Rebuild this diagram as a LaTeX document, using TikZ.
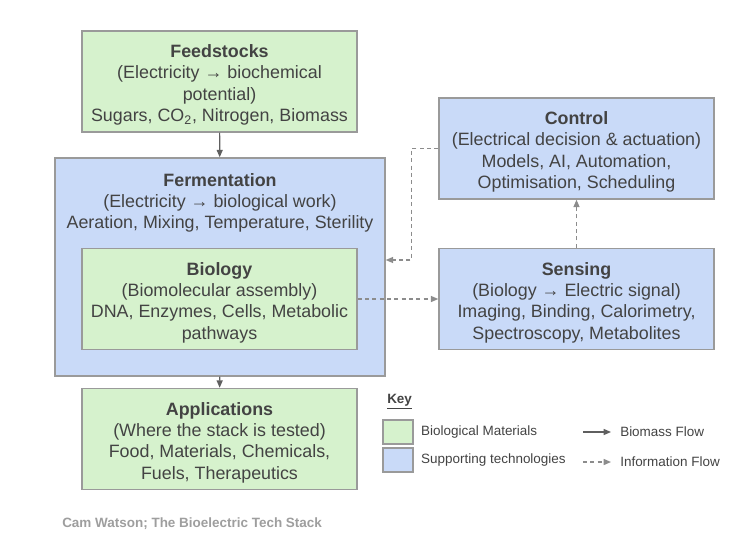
\documentclass[tikz,border=0pt]{standalone}
\usepackage{fontspec}
\setmainfont{Liberation Sans}
\usetikzlibrary{arrows.meta,calc,positioning}
\definecolor{biogreen}{HTML}{D6F2CD}
\definecolor{techblue}{HTML}{C9DAF8}
\definecolor{boxline}{HTML}{9A9A9A}
\definecolor{inktext}{HTML}{434343}
\definecolor{flowline}{HTML}{5F5F5F}
\definecolor{infoline}{HTML}{8C8C8C}
\definecolor{credit}{HTML}{9E9E9E}

\begin{document}
\begin{tikzpicture}[x=0.75pt,y=0.75pt,yscale=-1,xscale=1,
  stackbox/.style={draw=boxline, line width=1.1pt, inner sep=0pt,
    minimum width=206.25pt, minimum height=75.75pt},
  biobox/.style={stackbox, fill=biogreen},
  techbox/.style={stackbox, fill=techblue},
  boxtext/.style={align=center, text=inktext, inner sep=0pt, yshift=-2.7pt,
    font=\fontsize{13.4}{16.1}\selectfont},
  swatch/.style={draw=boxline, line width=0.9pt, minimum width=22.5pt, minimum height=18pt, inner sep=0pt},
  keytext/.style={anchor=west, inner sep=0pt, text=inktext, font=\fontsize{10.1}{12}\selectfont},
  biomass/.style={draw=flowline, line width=0.9pt, -{Triangle[length=5.5pt,width=4.5pt]}},
  info/.style={draw=infoline, line width=0.9pt, dash pattern=on 3pt off 2.5pt,
    -{Triangle[length=5.5pt,width=4.5pt]}},
]
  \useasboundingbox (0,0) rectangle (752,558);

  \node[biobox, label={[boxtext]center:{\textbf{Feedstocks}\\(Electricity → biochemical\\potential)\\Sugars, CO\textsubscript{2}, Nitrogen, Biomass}}]
    (feed) at (219.5,81.5) {};

  \node[techbox, minimum width=247.5pt, minimum height=163.5pt] (ferm) at (220,267) {};
  \node[boxtext] (fermtext) at ($(ferm.north)+(0,42)$)
    {\textbf{Fermentation}\\(Electricity → biological work)\\Aeration, Mixing, Temperature, Sterility};

  \node[biobox, label={[boxtext]center:{\textbf{Biology}\\(Biomolecular assembly)\\DNA, Enzymes, Cells, Metabolic\\pathways}}]
    (bio) at (219.5,299) {};

  \node[biobox, label={[boxtext]center:{\textbf{Applications}\\(Where the stack is tested)\\Food, Materials, Chemicals,\\Fuels, Therapeutics}}]
    (apps) at (219.5,439) {};

  \node[techbox, label={[boxtext]center:{\textbf{Control}\\(Electrical decision \& actuation)\\Models, AI, Automation,\\Optimisation, Scheduling}}]
    (ctrl) at (576.5,148.5) {};

  \node[techbox, label={[boxtext]center:{\textbf{Sensing}\\(Biology → Electric signal)\\Imaging, Binding, Calorimetry,\\Spectroscopy, Metabolites}}]
    (sens) at (576.5,299) {};

  \draw[biomass] (feed) -- (ferm);
  \draw[biomass] (ferm) -- (apps);
  \draw[info] (bio.east) -- (sens.west);
  \draw[info] (sens) -- (ctrl);
  \draw[info] (ctrl.west) -- ++(-27,0) |- ($(ferm.east)+(0,-7)$);

  \node[keytext, font=\fontsize{10.1}{12}\selectfont\bfseries] (keyhead) at (387,402) {\underline{Key}};
  \node[swatch, fill=biogreen] (keybio) at (398,432) {};
  \node[swatch, fill=techblue] (keytech) at (398,460) {};
  \node[keytext, right=5.5pt of keybio.east, anchor=west] (keybiotext) {Biological Materials};
  \node[keytext, right=5.5pt of keytech.east, anchor=west] (keytechtext) {Supporting technologies};

  \coordinate (massfrom) at (583,432);
  \coordinate (massto) at (611,432);
  \coordinate (infofrom) at (583,462);
  \coordinate (infoto) at (611,462);
  \draw[biomass] (massfrom) -- (massto);
  \draw[info] (infofrom) -- (infoto);
  \node[keytext] (masstext) at (620,432) {Biomass Flow};
  \node[keytext] (infotext) at (620,462) {Information Flow};

  \node[anchor=west, inner sep=0pt, text=credit, font=\fontsize{10.1}{12}\selectfont\bfseries] (creditline)
    at (62,524) {Cam Watson; The Bioelectric Tech Stack};
\end{tikzpicture}
\end{document}
